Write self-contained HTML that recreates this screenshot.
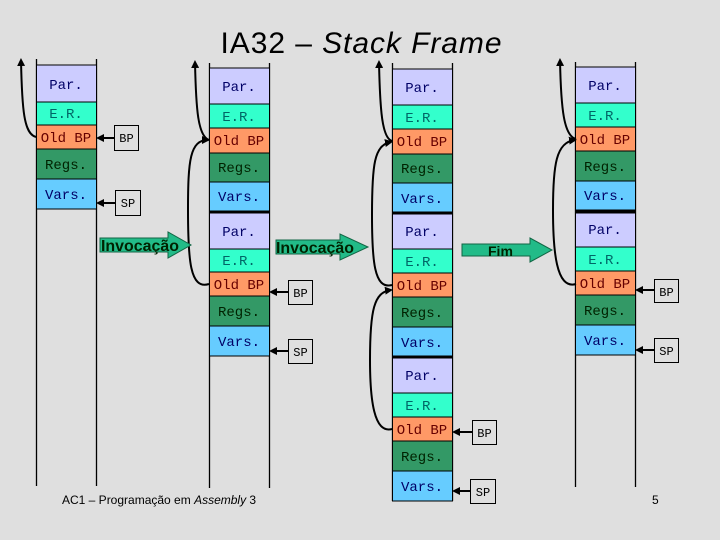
<!DOCTYPE html>
<html><head><meta charset="utf-8"><style>
html,body{margin:0;padding:0;background:#dfdfdf;}
svg{display:block;}
.c{font-family:"Liberation Mono",monospace;font-size:14px;text-anchor:middle;}
.b{font-family:"Liberation Mono",monospace;font-size:12px;text-anchor:middle;}
.s{font-family:"Liberation Sans",sans-serif;}
</style></head><body>
<svg width="720" height="540" viewBox="0 0 720 540" xmlns="http://www.w3.org/2000/svg">
<defs>
<marker id="ah" markerWidth="8" markerHeight="8" refX="6" refY="4" orient="auto" markerUnits="userSpaceOnUse"><path d="M0,0 L8,4 L0,8 Z" fill="#000"/></marker>
</defs>
<rect width="720" height="540" fill="#dfdfdf"/>
<text x="361" y="53" class="s" font-size="30" text-anchor="middle" textLength="281">IA32 – <tspan font-style="italic">Stack Frame</tspan></text>

<g stroke="#000" stroke-width="1.3">
<line x1="36.5" y1="59" x2="36.5" y2="486"/><line x1="96.5" y1="59" x2="96.5" y2="486"/>
<line x1="209.5" y1="63" x2="209.5" y2="488"/><line x1="269.5" y1="63" x2="269.5" y2="488"/>
<line x1="392.5" y1="63" x2="392.5" y2="501"/><line x1="452.5" y1="63" x2="452.5" y2="501"/>
<line x1="575.5" y1="62" x2="575.5" y2="487"/><line x1="635.5" y1="62" x2="635.5" y2="487"/>
</g>

<g stroke="#000" stroke-width="1">
<rect x="36.5" y="65" width="60" height="37" fill="#ccccff"/>
<rect x="36.5" y="102" width="60" height="23" fill="#33ffcc"/>
<rect x="36.5" y="125" width="60" height="24" fill="#ff9966"/>
<rect x="36.5" y="149" width="60" height="30" fill="#339966"/>
<rect x="36.5" y="179" width="60" height="30" fill="#66ccff"/>
<rect x="209.5" y="68" width="60" height="36" fill="#ccccff"/>
<rect x="209.5" y="104" width="60" height="24" fill="#33ffcc"/>
<rect x="209.5" y="128" width="60" height="25" fill="#ff9966"/>
<rect x="209.5" y="153" width="60" height="29" fill="#339966"/>
<rect x="209.5" y="182" width="60" height="29" fill="#66ccff"/>
<rect x="209.5" y="213" width="60" height="36" fill="#ccccff"/>
<rect x="209.5" y="249" width="60" height="23" fill="#33ffcc"/>
<rect x="209.5" y="272" width="60" height="24" fill="#ff9966"/>
<rect x="209.5" y="296" width="60" height="30" fill="#339966"/>
<rect x="209.5" y="326" width="60" height="30" fill="#66ccff"/>
<rect x="392.5" y="69" width="60" height="36" fill="#ccccff"/>
<rect x="392.5" y="105" width="60" height="24" fill="#33ffcc"/>
<rect x="392.5" y="129" width="60" height="25" fill="#ff9966"/>
<rect x="392.5" y="154" width="60" height="29" fill="#339966"/>
<rect x="392.5" y="183" width="60" height="29" fill="#66ccff"/>
<rect x="392.5" y="214" width="60" height="35" fill="#ccccff"/>
<rect x="392.5" y="249" width="60" height="24" fill="#33ffcc"/>
<rect x="392.5" y="273" width="60" height="24" fill="#ff9966"/>
<rect x="392.5" y="297" width="60" height="30" fill="#339966"/>
<rect x="392.5" y="327" width="60" height="29" fill="#66ccff"/>
<rect x="392.5" y="358" width="60" height="35" fill="#ccccff"/>
<rect x="392.5" y="393" width="60" height="24" fill="#33ffcc"/>
<rect x="392.5" y="417" width="60" height="24" fill="#ff9966"/>
<rect x="392.5" y="441" width="60" height="30" fill="#339966"/>
<rect x="392.5" y="471" width="60" height="30" fill="#66ccff"/>
<rect x="575.5" y="67" width="60" height="36" fill="#ccccff"/>
<rect x="575.5" y="103" width="60" height="24" fill="#33ffcc"/>
<rect x="575.5" y="127" width="60" height="24" fill="#ff9966"/>
<rect x="575.5" y="151" width="60" height="30" fill="#339966"/>
<rect x="575.5" y="181" width="60" height="29" fill="#66ccff"/>
<rect x="575.5" y="213" width="60" height="34" fill="#ccccff"/>
<rect x="575.5" y="247" width="60" height="24" fill="#33ffcc"/>
<rect x="575.5" y="271" width="60" height="24" fill="#ff9966"/>
<rect x="575.5" y="295" width="60" height="30" fill="#339966"/>
<rect x="575.5" y="325" width="60" height="30" fill="#66ccff"/>
</g>
<g stroke="#000" stroke-width="3">
<line x1="209" y1="212" x2="270" y2="212"/>
<line x1="392" y1="213" x2="453" y2="213"/><line x1="392" y1="357" x2="453" y2="357"/>
<line x1="575" y1="212" x2="636" y2="212"/>
</g>

<g class="c">
<text x="66" y="89" fill="#000066">Par.</text><text x="66" y="118" fill="#006666">E.R.</text><text x="66" y="142" fill="#660000">Old BP</text><text x="66" y="169" fill="#002200">Regs.</text><text x="66" y="199" fill="#000066">Vars.</text>
<text x="239" y="91" fill="#000066">Par.</text><text x="239" y="121" fill="#006666">E.R.</text><text x="239" y="145" fill="#660000">Old BP</text><text x="239" y="172" fill="#002200">Regs.</text><text x="239" y="201" fill="#000066">Vars.</text>
<text x="239" y="236" fill="#000066">Par.</text><text x="239" y="265" fill="#006666">E.R.</text><text x="239" y="289" fill="#660000">Old BP</text><text x="239" y="316" fill="#002200">Regs.</text><text x="239" y="346" fill="#000066">Vars.</text>
<text x="422" y="92" fill="#000066">Par.</text><text x="422" y="122" fill="#006666">E.R.</text><text x="422" y="146" fill="#660000">Old BP</text><text x="422" y="173" fill="#002200">Regs.</text><text x="422" y="203" fill="#000066">Vars.</text>
<text x="422" y="236" fill="#000066">Par.</text><text x="422" y="266" fill="#006666">E.R.</text><text x="422" y="290" fill="#660000">Old BP</text><text x="422" y="317" fill="#002200">Regs.</text><text x="422" y="347" fill="#000066">Vars.</text>
<text x="422" y="380" fill="#000066">Par.</text><text x="422" y="410" fill="#006666">E.R.</text><text x="422" y="434" fill="#660000">Old BP</text><text x="422" y="461" fill="#002200">Regs.</text><text x="422" y="491" fill="#000066">Vars.</text>
<text x="605" y="90" fill="#000066">Par.</text><text x="605" y="120" fill="#006666">E.R.</text><text x="605" y="144" fill="#660000">Old BP</text><text x="605" y="171" fill="#002200">Regs.</text><text x="605" y="200" fill="#000066">Vars.</text>
<text x="605" y="234" fill="#000066">Par.</text><text x="605" y="264" fill="#006666">E.R.</text><text x="605" y="288" fill="#660000">Old BP</text><text x="605" y="315" fill="#002200">Regs.</text><text x="605" y="345" fill="#000066">Vars.</text>
</g>

<g fill="#dfdfdf" stroke="#000" stroke-width="1">
<rect x="114.5" y="125.5" width="24" height="25"/><rect x="115.5" y="190.5" width="25" height="25"/>
<rect x="288.5" y="280.5" width="24" height="24"/><rect x="288.5" y="339.5" width="24" height="24"/>
<rect x="472.5" y="420.5" width="24" height="24"/><rect x="470.5" y="479.5" width="25" height="24"/>
<rect x="654.5" y="279.5" width="24" height="23"/><rect x="654.5" y="338.5" width="24" height="24"/>
</g>
<g class="b" fill="#000">
<text x="126.5" y="142">BP</text><text x="128" y="207">SP</text>
<text x="300.5" y="297">BP</text><text x="300.5" y="356">SP</text>
<text x="484.5" y="437">BP</text><text x="483" y="496">SP</text>
<text x="666.5" y="296">BP</text><text x="666.5" y="355">SP</text>
</g>
<g stroke="#000" stroke-width="2" marker-end="url(#ah)">
<line x1="114" y1="138" x2="98" y2="138"/><line x1="115" y1="203" x2="98" y2="203"/>
<line x1="288" y1="292" x2="271" y2="292"/><line x1="288" y1="351" x2="271" y2="351"/>
<line x1="472" y1="432" x2="454" y2="432"/><line x1="470" y1="491" x2="454" y2="491"/>
<line x1="654" y1="290" x2="637" y2="290"/><line x1="654" y1="350" x2="637" y2="350"/>
</g>

<g fill="none" stroke="#000" stroke-width="2">
<path d="M36,137 C24,134 22,110 21,60" marker-end="url(#ah)"/>
<path d="M209,140 C198,136 196,110 195,62" marker-end="url(#ah)"/>
<path d="M209,284 C190,290 188,260 188,210 C188,160 190,140 208,140" marker-end="url(#ah)"/>
<path d="M392,141 C382,138 380,110 379,62" marker-end="url(#ah)"/>
<path d="M392,285 C374,290 372,260 372,215 C372,165 374,145 391,142" marker-end="url(#ah)"/>
<path d="M392,429 C374,434 370,400 370,360 C370,310 374,292 391,290" marker-end="url(#ah)"/>
<path d="M576,139 C564,136 561,110 560,60" marker-end="url(#ah)"/>
<path d="M576,284 C556,290 553,250 553,210 C553,165 556,142 575,140" marker-end="url(#ah)"/>
</g>

<g fill="#22bb88" stroke="#116644" stroke-width="1">
<path d="M100,238 H168 V232 L191,245 L168,258 V252 H100 Z"/>
<path d="M276,240 H340 V234 L368,247 L340,260 V254 H276 Z"/>
<path d="M462,244 H530 V238 L552,250 L530,262 V256 H462 Z"/>
</g>
<g class="s" fill="#002200">
<text x="101" y="251" font-size="16" font-weight="bold" textLength="78" lengthAdjust="spacingAndGlyphs">Invocação</text>
<text x="276" y="253" font-size="16" font-weight="bold" textLength="78" lengthAdjust="spacingAndGlyphs">Invocação</text>
<text x="488" y="256" font-size="14" font-weight="bold">Fim</text>
</g>

<text x="62" y="504" class="s" font-size="12" fill="#000">AC1 – Programação em <tspan font-style="italic">Assembly</tspan> 3</text>
<text x="652" y="504" class="s" font-size="12" fill="#000">5</text>
</svg>
</body></html>
